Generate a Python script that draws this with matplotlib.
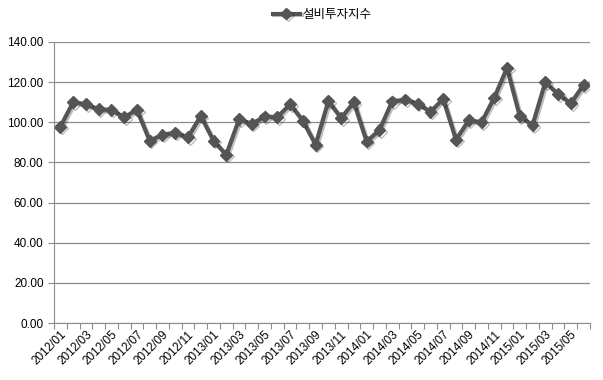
import matplotlib.pyplot as plt
import matplotlib.patheffects as pe

# 설비투자지수, 월별 2012/01 ~ 2015/06
months = [f"{y}/{m:02d}" for y in range(2012, 2016) for m in range(1, 13)][:42]
values = [97.8, 110.0, 109.0, 106.5, 106.2, 102.5, 106.2, 90.8, 93.8, 94.8, 92.5, 103.2,
          90.8, 83.8, 101.5, 99.2, 102.9, 102.5, 109.0, 100.8, 88.8, 110.6, 102.1, 110.0,
          90.4, 96.1, 110.4, 111.3, 109.3, 105.3, 111.6, 91.3, 101.0, 100.0, 112.3, 127.1,
          103.0, 98.6, 120.0, 114.0, 109.5, 118.6]
series_name = "설비투자지수"

plt.rcParams['font.family'] = ['Liberation Sans', 'Noto Sans CJK KR', 'DejaVu Sans']

fig = plt.figure(figsize=(6.03, 3.8), dpi=100)
ax = fig.add_axes([54/603, 1 - 323/380, 536/603, 281/380])

x = list(range(len(values)))
ax.plot(x, values, color='#555555', lw=3.0, marker='D', markersize=6,
        markeredgecolor='#555555', markerfacecolor='#555555', label=series_name,
        path_effects=[pe.SimpleLineShadow(offset=(1.2, -1.2), alpha=0.25), pe.Normal()])

ax.set_xlim(-0.5, len(values) - 0.5)
ax.set_ylim(0, 140)
ax.set_yticks(range(0, 141, 20))
ax.set_yticklabels([f"{v:.2f}" for v in range(0, 141, 20)], fontsize=8.5)
ax.yaxis.grid(True, color='#8c8c8c', lw=0.9)
ax.set_axisbelow(True)

# 카테고리 경계에 눈금, 라벨은 2개월마다
ax.set_xticks([i - 0.5 for i in range(len(values) + 1)])
ax.set_xticklabels([])
ax.tick_params(axis='x', which='major', length=4, color='#8c8c8c', direction='out')
ax.set_xticks(x[::2], minor=True)
ax.set_xticklabels(months[::2], minor=True, rotation=45, ha='right',
                   rotation_mode='anchor', fontsize=8.5)
ax.tick_params(axis='x', which='minor', length=0, pad=4)
ax.tick_params(axis='y', length=4, color='#8c8c8c', direction='out')

for s in ['top', 'right']:
    ax.spines[s].set_visible(False)
for s in ['left', 'bottom']:
    ax.spines[s].set_color('#8c8c8c')

ax.legend(loc='lower center', bbox_to_anchor=(0.5, 1.035), frameon=False,
          handlelength=2.2, handletextpad=0.2,
          prop={'family': ['Noto Sans CJK KR', 'DejaVu Sans'], 'size': 9})

fig.savefig('out.png', dpi=100)
